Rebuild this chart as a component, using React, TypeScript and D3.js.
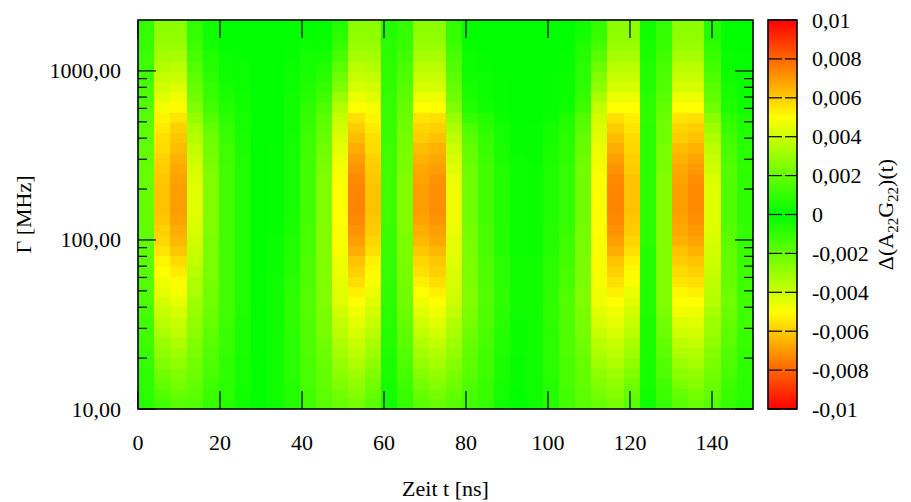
import React from "react";
import * as d3 from "d3";

// ---------- data ----------
const T_MIN = 0;
const T_MAX = 150; // ns
const GAMMA_MIN = 10; // MHz
const GAMMA_MAX = 2000; // MHz

const xTicks = [0, 20, 40, 60, 80, 100, 120, 140];
const xTickLabels = ["0", "20", "40", "60", "80", "100", "120", "140"];
const yMajorTicks = [10, 100, 1000];
const yTickLabels = ["10,00", "100,00", "1000,00"];
const yMinorTicks = [20, 30, 40, 50, 60, 70, 80, 90, 200, 300, 400, 500, 600, 700, 800, 900];
const cbTicks = [-0.01, -0.008, -0.006, -0.004, -0.002, 0, 0.002, 0.004, 0.006, 0.008, 0.01];
const cbTickLabels = ["-0,01", "-0,008", "-0,006", "-0,004", "-0,002", "0", "0,002", "0,004", "0,006", "0,008", "0,01"];
const paletteStops = [-0.01, -0.005, 0, 0.005, 0.01];
const paletteColors = ["#ff0000", "#ffff00", "#00ff00", "#ffff00", "#ff0000"];

const VALUE_UNIT = 1e-4;
// one entry per time slice (38 slices over 0..150 ns);
// each lists Δ(A22G22) in units of 1e-4 for 38 Γ rows from 10 MHz (first) up to 2000 MHz (last)
const slices: number[][] = [
  [7,8,9,9,10,11,12,13,13,14,15,16,16,17,18,18,19,19,20,20,20,20,20,20,19,19,18,18,17,16,15,14,13,12,12,11,10,10],
  [13,16,19,22,25,28,30,33,36,39,42,45,47,50,52,55,58,59,61,62,62,62,61,60,59,57,56,54,52,48,44,41,38,35,32,30,28,27],
  [17,20,23,25,28,31,34,37,39,42,45,48,51,54,57,61,64,66,68,69,69,69,68,67,65,63,61,59,55,51,47,43,39,36,33,30,28,27],
  [16,18,19,21,22,24,25,27,28,30,31,33,34,36,38,39,41,42,43,44,44,44,43,42,40,38,35,33,29,25,22,20,18,16,14,12,10,10],
  [10,11,12,14,15,16,17,18,20,21,22,22,23,23,24,24,24,25,25,25,25,25,25,24,23,22,21,19,16,13,11,10,8,7,6,4,3,3],
  [7,8,8,9,9,10,11,11,12,12,13,13,13,13,13,13,13,13,13,13,13,13,13,13,12,12,11,10,8,6,5,4,3,2,2,1,0,0],
  [3,3,4,4,4,5,5,5,5,6,6,6,6,6,6,6,6,6,6,6,6,6,6,6,6,5,5,4,4,3,3,2,2,2,1,1,0,0],
  [0,0,0,0,0,0,0,0,0,0,0,0,0,0,0,0,0,0,0,0,0,0,0,0,0,0,0,0,0,0,0,0,0,0,0,0,0,0],
  [3,3,3,3,3,3,3,3,3,3,3,3,3,2,2,2,2,1,1,1,1,1,1,1,1,1,0,0,0,0,0,0,0,0,0,0,0,0],
  [7,7,7,8,8,8,8,8,9,9,9,8,8,7,7,6,6,5,5,4,4,4,4,4,4,4,4,3,3,3,3,2,2,2,1,1,0,0],
  [13,13,14,14,14,15,15,15,15,16,16,16,15,15,15,14,14,14,13,13,13,13,13,13,13,12,12,11,10,9,7,6,5,4,4,2,1,0],
  [17,18,19,19,20,21,22,23,23,24,25,25,25,25,25,25,25,25,25,25,25,25,25,24,23,22,20,19,18,15,12,10,8,6,4,2,1,0],
  [20,22,25,27,29,32,34,36,38,41,43,44,45,46,47,48,49,49,50,50,50,50,49,48,47,45,43,41,39,35,30,25,22,18,14,11,8,7],
  [23,26,28,31,34,37,39,42,45,47,50,53,56,59,62,66,69,71,73,74,74,74,73,71,69,66,63,60,56,50,46,42,39,36,33,30,28,27],
  [17,20,22,25,28,31,33,36,39,41,44,46,49,51,53,56,58,60,61,62,62,62,61,60,59,57,56,54,52,48,44,41,38,35,32,30,28,27],
  [3,4,4,5,5,6,7,7,8,8,9,9,10,10,10,11,11,11,12,12,12,12,12,12,12,12,11,11,11,10,10,9,9,9,8,8,7,7],
  [10,11,12,14,15,16,17,18,20,21,22,22,23,23,24,24,24,25,25,25,25,25,25,24,24,23,23,22,21,20,18,17,15,14,13,11,10,10],
  [17,20,23,26,29,32,35,38,41,44,47,50,53,56,58,61,64,66,68,69,69,69,68,67,65,63,60,58,55,50,46,42,39,36,33,30,28,27],
  [20,23,26,29,32,35,38,41,44,47,50,53,56,59,61,64,67,69,71,72,72,72,71,69,67,65,62,59,56,50,46,42,39,36,33,30,28,27],
  [17,19,22,24,26,29,31,33,35,38,40,41,42,43,44,45,45,46,47,47,47,47,46,44,42,40,37,34,30,25,22,20,18,16,14,12,10,10],
  [13,14,15,17,18,19,20,21,23,24,25,25,24,24,24,23,23,23,22,22,22,22,22,21,20,19,17,15,10,6,5,4,3,2,2,1,0,0],
  [10,11,11,12,12,13,14,14,15,15,16,16,15,15,15,14,14,14,13,13,13,13,13,13,12,11,10,8,7,3,2,2,2,1,1,0,0,0],
  [3,4,4,5,5,6,7,7,8,8,9,9,8,8,8,7,7,7,6,6,6,6,6,6,5,5,4,4,2,1,1,1,1,0,0,0,0,0],
  [0,0,1,1,1,2,2,2,2,3,3,3,3,3,3,2,2,2,2,2,2,2,2,2,2,1,1,1,1,0,0,0,0,0,0,0,0,0],
  [3,3,3,3,3,3,3,3,3,3,3,3,3,3,3,2,2,2,2,2,2,2,2,2,1,1,1,1,0,0,0,0,0,0,0,0,0,0],
  [7,7,7,8,8,8,8,8,9,9,9,9,8,8,8,7,7,7,6,6,6,6,6,6,5,5,4,4,2,1,1,1,1,0,0,0,0,0],
  [13,13,14,14,14,15,15,15,15,16,16,15,14,14,13,13,12,11,10,10,10,10,10,10,9,9,8,7,6,3,2,2,2,1,1,0,0,0],
  [17,18,19,19,20,21,22,23,23,24,25,25,24,24,24,23,23,23,22,22,22,22,22,22,21,20,19,17,16,12,10,9,8,8,7,6,4,3],
  [20,23,25,28,31,34,36,39,42,44,47,47,48,48,48,49,49,50,50,50,50,50,50,48,47,46,44,43,41,38,33,28,25,21,17,14,11,10],
  [23,26,28,31,34,37,39,42,45,47,50,53,56,59,62,66,69,71,73,74,74,74,73,71,69,66,63,60,56,50,46,42,39,36,33,30,28,27],
  [17,20,22,25,28,31,33,36,39,41,44,46,49,51,53,56,58,60,61,62,62,62,62,60,59,58,57,55,53,50,46,42,39,36,33,30,28,27],
  [3,3,4,4,4,5,5,5,5,6,6,6,7,7,7,7,8,8,8,8,8,8,8,8,8,8,8,8,9,9,8,7,6,6,5,4,3,3],
  [10,12,13,15,16,18,19,21,22,24,25,25,25,25,25,25,25,25,25,25,25,25,25,24,24,23,22,22,21,19,17,16,15,14,13,11,10,10],
  [17,20,24,27,30,34,37,40,43,47,50,52,55,57,60,62,65,67,68,69,69,69,68,67,65,63,60,58,55,50,46,42,39,36,33,30,28,27],
  [20,23,26,29,32,35,38,41,44,47,50,53,56,59,62,65,68,70,72,73,73,73,72,70,68,65,62,60,56,50,46,42,39,36,33,30,28,27],
  [17,19,21,22,24,26,28,30,31,33,35,36,37,39,40,41,42,43,44,44,44,44,43,41,39,37,34,31,27,22,19,17,15,13,11,9,7,7],
  [10,11,12,14,15,16,17,18,20,21,22,21,20,20,19,19,18,17,16,16,16,16,16,16,15,14,13,11,9,6,5,4,3,2,2,1,0,0],
  [7,8,8,9,9,10,11,11,12,12,13,12,12,12,11,11,10,10,9,9,9,9,9,9,8,8,7,6,5,3,2,2,2,1,1,0,0,0],
];

// ---------- layout ----------
const W = 911;
const H = 502;
const PL = 138, PR = 753, PT = 20, PB = 409;
const CBL = 768, CBR = 797;
const FONT = "'Liberation Serif', 'Times New Roman', serif";
const FS = 22;

export default function App() {
  const x = d3.scaleLinear().domain([T_MIN, T_MAX]).range([PL, PR]);
  const y = d3.scaleLog().domain([GAMMA_MIN, GAMMA_MAX]).range([PB, PT]);
  const cb = d3.scaleLinear().domain([cbTicks[0], cbTicks[cbTicks.length - 1]]).range([PB, PT]);
  const color = d3.scaleLinear<string>().domain(paletteStops).range(paletteColors).clamp(true);

  const nT = slices.length;
  const tEdges = d3.range(nT + 1).map((i) => T_MIN + (i * (T_MAX - T_MIN)) / nT);
  const nG = slices[0].length;
  const lg0 = Math.log10(GAMMA_MIN), lg1 = Math.log10(GAMMA_MAX);
  const gEdges = d3.range(nG + 1).map((j) => Math.pow(10, lg0 + (j * (lg1 - lg0)) / nG));

  const cells: React.ReactNode[] = [];
  slices.forEach((col, i) => {
    const x0 = x(tEdges[i]);
    const x1 = x(tEdges[i + 1]);
    col.forEach((v, j) => {
      const yTop = y(gEdges[j + 1]);
      const yBot = y(gEdges[j]);
      cells.push(
        <rect
          key={`c${i}-${j}`}
          x={x0}
          y={yTop}
          width={x1 - x0 + 0.6}
          height={yBot - yTop + 0.6}
          fill={color(v * VALUE_UNIT)}
        />
      );
    });
  });

  const tick = { stroke: "#000", strokeWidth: 1.2 };
  const major = 18, minor = 9;

  return (
    <svg
      width={W}
      height={H}
      viewBox={`0 0 ${W} ${H}`}
      style={{ position: "absolute", left: 0, top: 0, background: "#fff" }}
      fontFamily={FONT}
      fontSize={FS}
    >
      <rect x={0} y={0} width={W} height={H} fill="#fff" />
      <defs>
        <clipPath id="plotclip">
          <rect x={PL} y={PT} width={PR - PL} height={PB - PT} />
        </clipPath>
        <linearGradient id="cbgrad" x1="0" y1="1" x2="0" y2="0">
          {paletteStops.map((s, k) => (
            <stop
              key={k}
              offset={`${((s - paletteStops[0]) / (paletteStops[paletteStops.length - 1] - paletteStops[0])) * 100}%`}
              stopColor={paletteColors[k]}
            />
          ))}
        </linearGradient>
      </defs>

      <g clipPath="url(#plotclip)" shapeRendering="crispEdges">{cells}</g>

      {/* x ticks */}
      {xTicks.map((t) => (
        <g key={`xt${t}`}>
          <line x1={x(t)} x2={x(t)} y1={PB} y2={PB - major} {...tick} />
          <line x1={x(t)} x2={x(t)} y1={PT} y2={PT + major} {...tick} />
        </g>
      ))}
      {xTicks.map((t, k) => (
        <text key={`xl${t}`} x={x(t)} y={450} textAnchor="middle">
          {xTickLabels[k]}
        </text>
      ))}

      {/* y ticks */}
      {yMajorTicks.map((g) => (
        <g key={`ym${g}`}>
          <line x1={PL} x2={PL + major} y1={y(g)} y2={y(g)} {...tick} />
          <line x1={PR} x2={PR - major} y1={y(g)} y2={y(g)} {...tick} />
        </g>
      ))}
      {yMinorTicks.map((g) => (
        <g key={`yn${g}`}>
          <line x1={PL} x2={PL + minor} y1={y(g)} y2={y(g)} {...tick} />
          <line x1={PR} x2={PR - minor} y1={y(g)} y2={y(g)} {...tick} />
        </g>
      ))}
      {yMajorTicks.map((g, k) => (
        <text key={`yl${g}`} x={121} y={y(g) + 7.5} textAnchor="end">
          {yTickLabels[k]}
        </text>
      ))}

      {/* plot border */}
      <rect x={PL} y={PT} width={PR - PL} height={PB - PT} fill="none" stroke="#000" strokeWidth={1.6} />

      {/* axis titles */}
      <text x={(PL + PR) / 2} y={496} textAnchor="middle">
        Zeit t [ns]
      </text>
      <text transform={`translate(31, ${(PT + PB) / 2}) rotate(-90)`} textAnchor="middle">
        Γ [MHz]
      </text>

      {/* colour bar */}
      <rect x={CBL} y={PT} width={CBR - CBL} height={PB - PT} fill="url(#cbgrad)" />
      {cbTicks.map((v) => (
        <g key={`cbt${v}`}>
          <line x1={CBL} x2={CBL + 14} y1={cb(v)} y2={cb(v)} {...tick} />
          <line x1={CBR} x2={CBR - 12} y1={cb(v)} y2={cb(v)} {...tick} />
        </g>
      ))}
      <rect x={CBL} y={PT} width={CBR - CBL} height={PB - PT} fill="none" stroke="#000" strokeWidth={1.6} />
      {cbTicks.map((v, k) => (
        <text key={`cbl${v}`} x={812} y={cb(v) + 7.5} textAnchor="start">
          {cbTickLabels[k]}
        </text>
      ))}
      <text transform={`translate(893, ${(PT + PB) / 2}) rotate(-90)`} textAnchor="middle">
        Δ(A
        <tspan fontSize={15} dy={5}>22</tspan>
        <tspan dy={-5}>G</tspan>
        <tspan fontSize={15} dy={5}>22</tspan>
        <tspan dy={-5}>)(t)</tspan>
      </text>
    </svg>
  );
}
